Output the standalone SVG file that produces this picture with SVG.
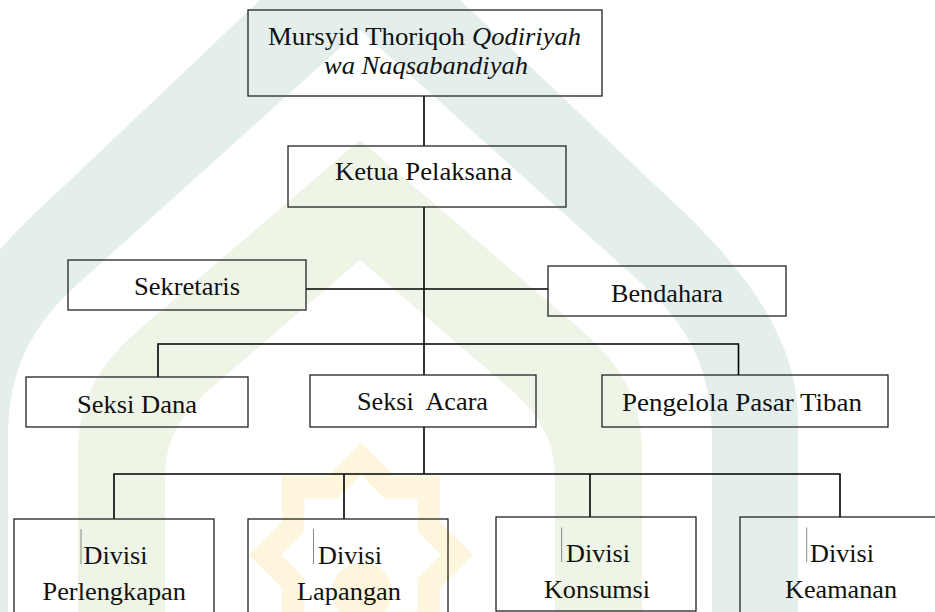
<svg xmlns="http://www.w3.org/2000/svg" width="935" height="612" viewBox="0 0 935 612">
<defs>
<style>
.box{fill:none;stroke:#222;stroke-width:1.3}
.con{fill:none;stroke:#000;stroke-width:1.6}
.t{font-family:"Liberation Serif","Times New Roman",serif;font-size:25px;fill:#111}
.i{font-style:italic}
.bar{stroke:#888;stroke-width:1}
</style>
</defs>
<rect width="935" height="612" fill="#fff"/>
<g id="watermark">
<path fill="#e4efec" d="M360,-95 L655,185 C715,240 798,320 798,420 L798,612 L712,612 L712,440 C712,370 690,327 640,282 L360,30 L80,282 C30,327 8,370 8,440 L8,612 L-78,612 L-78,420 C-78,320 5,240 65,185 Z"/>
<path fill="#eef5e7" d="M360,140 L580,329 C620,363 642,400 642,450 L642,612 L555,612 L555,480 C555,440 540,415 510,389 L360,260 L210,389 C180,415 165,440 165,480 L165,612 L78,612 L78,450 C78,400 100,363 140,329 Z"/>
<path fill="#fef6dc" fill-rule="evenodd" transform="translate(361,555)" d="M0,-112 L32.8,-79.2 L79.2,-79.2 L79.2,-32.8 L112,0 L79.2,32.8 L79.2,79.2 L32.8,79.2 L0,112 L-32.8,79.2 L-79.2,79.2 L-79.2,32.8 L-112,0 L-79.2,-32.8 L-79.2,-79.2 L-32.8,-79.2 Z M0,-80 L23.4,-56.6 L56.6,-56.6 L56.6,-23.4 L80,0 L56.6,23.4 L56.6,56.6 L23.4,56.6 L0,80 L-23.4,56.6 L-56.6,56.6 L-56.6,23.4 L-80,0 L-56.6,-23.4 L-56.6,-56.6 L-23.4,-56.6 Z"/>
<circle cx="362" cy="592" r="30" fill="#fef6dc"/>
</g>
<g id="connectors">
<line class="con" x1="424" y1="96" x2="424" y2="146"/>
<line class="con" x1="424" y1="207" x2="424" y2="375"/>
<line class="con" x1="306" y1="289" x2="548" y2="289"/>
<path class="con" d="M158,377 L158,344 L738.5,344 L738.5,375"/>
<line class="con" x1="424" y1="427" x2="424" y2="474"/>
<path class="con" d="M114,519 L114,474 L840,474 L840,517"/>
<line class="con" x1="344" y1="474" x2="344" y2="519"/>
<line class="con" x1="590" y1="474" x2="590" y2="517"/>
</g>
<g id="mursyid">
<rect class="box" x="248" y="10" width="354" height="86"/>
<text class="t" x="268" y="45" textLength="197" lengthAdjust="spacingAndGlyphs">Mursyid Thoriqoh</text>
<text class="t i" x="472" y="45" textLength="109" lengthAdjust="spacingAndGlyphs">Qodiriyah</text>
<text class="t i" x="324" y="74" textLength="204" lengthAdjust="spacingAndGlyphs">wa Naqsabandiyah</text>
</g>
<g id="ketua">
<rect class="box" x="288" y="146" width="278" height="61"/>
<text class="t" x="335" y="180" textLength="177" lengthAdjust="spacingAndGlyphs">Ketua Pelaksana</text>
</g>
<g id="sekretaris">
<rect class="box" x="68" y="260" width="238" height="50"/>
<text class="t" x="134" y="295" textLength="106" lengthAdjust="spacingAndGlyphs">Sekretaris</text>
</g>
<g id="bendahara">
<rect class="box" x="548" y="266" width="238" height="50"/>
<text class="t" x="611" y="301.5" textLength="112" lengthAdjust="spacingAndGlyphs">Bendahara</text>
</g>
<g id="seksi-dana">
<rect class="box" x="26" y="377" width="222" height="50"/>
<text class="t" x="77" y="412.5" textLength="120" lengthAdjust="spacingAndGlyphs">Seksi Dana</text>
</g>
<g id="seksi-acara">
<rect class="box" x="310" y="375" width="226" height="52"/>
<text class="t" x="357" y="410" textLength="131" lengthAdjust="spacingAndGlyphs" xml:space="preserve">Seksi  Acara</text>
</g>
<g id="pengelola">
<rect class="box" x="602" y="375" width="286" height="52"/>
<text class="t" x="622" y="410.5" textLength="240" lengthAdjust="spacingAndGlyphs">Pengelola Pasar Tiban</text>
</g>
<g id="divisi-perlengkapan">
<rect class="box" x="14" y="519" width="200" height="110"/>
<line class="bar" x1="81" y1="529" x2="81" y2="564"/>
<text class="t" x="83.5" y="564" textLength="64" lengthAdjust="spacingAndGlyphs">Divisi</text>
<text class="t" x="42.5" y="600" textLength="143.5" lengthAdjust="spacingAndGlyphs">Perlengkapan</text>
</g>
<g id="divisi-lapangan">
<rect class="box" x="248" y="519" width="200" height="110"/>
<line class="bar" x1="313.5" y1="529" x2="313.5" y2="564"/>
<text class="t" x="318" y="564" textLength="64" lengthAdjust="spacingAndGlyphs">Divisi</text>
<text class="t" x="297" y="600" textLength="104" lengthAdjust="spacingAndGlyphs">Lapangan</text>
</g>
<g id="divisi-konsumsi">
<rect class="box" x="496" y="517" width="200" height="94"/>
<line class="bar" x1="561.7" y1="527.5" x2="561.7" y2="562"/>
<text class="t" x="566" y="562" textLength="64" lengthAdjust="spacingAndGlyphs">Divisi</text>
<text class="t" x="544" y="597.5" textLength="106" lengthAdjust="spacingAndGlyphs">Konsumsi</text>
</g>
<g id="divisi-keamanan">
<rect class="box" x="740" y="517" width="220" height="110"/>
<line class="bar" x1="806.7" y1="527.5" x2="806.7" y2="562"/>
<text class="t" x="810" y="562" textLength="64" lengthAdjust="spacingAndGlyphs">Divisi</text>
<text class="t" x="785" y="597.5" textLength="112" lengthAdjust="spacingAndGlyphs">Keamanan</text>
</g>
</svg>
